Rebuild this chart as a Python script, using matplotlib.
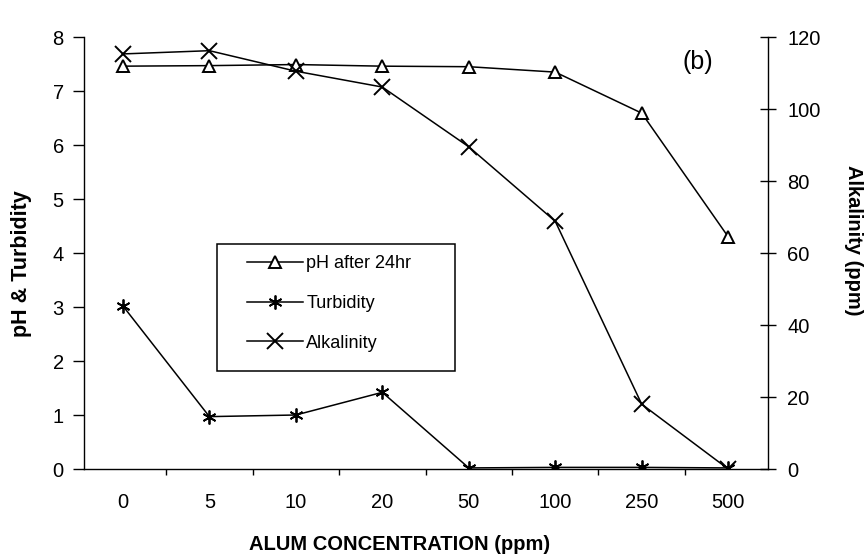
import matplotlib
matplotlib.use("Agg")
import matplotlib.pyplot as plt
from matplotlib.patches import Rectangle

plt.rcParams['font.family'] = ['Liberation Sans', 'DejaVu Sans']

# Alum dose series
concentrations = ["0", "5", "10", "20", "50", "100", "250", "500"]
ph_after_24hr = [7.46, 7.47, 7.49, 7.46, 7.45, 7.35, 6.59, 4.30]
turbidity = [3.02, 0.97, 1.00, 1.42, 0.02, 0.03, 0.03, 0.02]
alkalinity = [115.3, 116.2, 110.5, 106.1, 89.5, 68.8, 18.0, 0.0]

series_labels = ["pH after 24hr", "Turbidity", "Alkalinity"]
left_ticks = list(range(0, 9))
right_ticks = list(range(0, 121, 20))

fig = plt.figure(figsize=(8.66, 5.59), dpi=100)
ax = fig.add_axes([0.0970, 0.1610, 0.7898, 0.7728])
ax2 = ax.twinx()

x = list(range(len(concentrations)))
ln_ph, = ax.plot(x, ph_after_24hr, color='black', lw=1.1, marker='^', ms=8,
                 mfc='white', mec='black', mew=1.4, zorder=4)
ln_tu, = ax.plot(x, turbidity, color='black', lw=1.1, marker=(6, 2, 0), ms=10,
                 mec='black', mew=1.3, zorder=3)
ln_al, = ax2.plot(x, alkalinity, color='black', lw=1.1, marker='x', ms=12,
                  mew=1.4, zorder=3)

ax.set_xlim(-0.45, 7.46)
ax.set_ylim(0, 8)
ax2.set_ylim(0, 120)

ax.set_yticks(left_ticks)
ax2.set_yticks(right_ticks)
ax.set_xticks(x)
ax.set_xticklabels(concentrations)
ax.set_xticks([i + 0.5 for i in range(len(x) - 1)], minor=True)

ax.tick_params(axis='x', which='major', length=0, pad=17, labelsize=14.5)
ax.tick_params(axis='x', which='minor', length=4.5, width=1.0, direction='out')
ax.tick_params(axis='y', direction='out', length=8, width=1.0, pad=6.5, labelsize=14.5)
ax2.tick_params(axis='y', direction='inout', length=12, width=1.0, pad=8, labelsize=14.5)

for name in ('top', 'right'):
    ax.spines[name].set_visible(False)
for name in ('top', 'left', 'bottom'):
    ax2.spines[name].set_visible(False)
for sp in list(ax.spines.values()) + list(ax2.spines.values()):
    sp.set_linewidth(1.0)

# legend inside a hand-drawn frame
ax2.legend([ln_ph, ln_tu, ln_al], series_labels, loc='upper left',
           bbox_to_anchor=(0.238, 0.495), bbox_transform=ax.transAxes,
           frameon=False, borderpad=0, borderaxespad=0, handlelength=3.1,
           handletextpad=0.2, labelspacing=1.26, fontsize=13)
ax2.add_patch(Rectangle((0.194, 0.227), 0.349, 0.294, transform=ax.transAxes,
                        fill=False, lw=1.1, ec='black', zorder=5))

ax2.text(0.898, 0.942, '(b)', transform=ax.transAxes, fontsize=18,
         ha='center', va='center')

fig.text(22 / 866, 1 - 264 / 559, 'pH & Turbidity', rotation=90, fontsize=15.5,
         fontweight='bold', ha='center', va='center')
fig.text(854 / 866, 1 - 240 / 559, 'Alkalinity (ppm)', rotation=270, fontsize=14.5,
         fontweight='bold', ha='center', va='center')
fig.text(400 / 866, 1 - 544 / 559, 'ALUM CONCENTRATION (ppm)', fontsize=14.5,
         fontweight='bold', ha='center', va='center')

fig.savefig('out.png', dpi=100)
